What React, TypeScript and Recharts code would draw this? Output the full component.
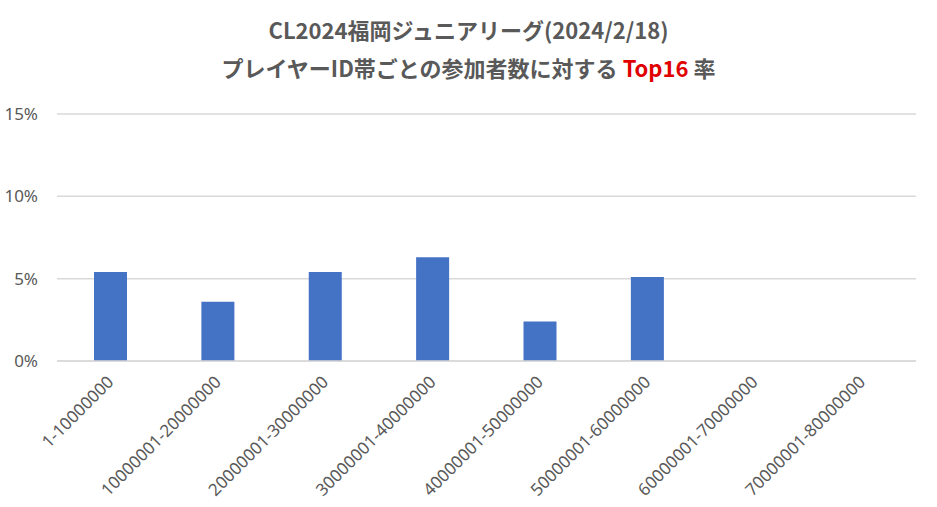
import React from 'react';
import { BarChart, Bar, XAxis, YAxis, CartesianGrid } from 'recharts';

const idRanges = [
  '1-10000000',
  '10000001-20000000',
  '20000001-30000000',
  '30000001-40000000',
  '40000001-50000000',
  '50000001-60000000',
  '60000001-70000000',
  '70000001-80000000',
];

const top16Rate = [0.054, 0.036, 0.054, 0.063, 0.024, 0.051, 0, 0];

const yTicks = [0, 0.05, 0.1, 0.15];

const data = idRanges.map((range, i) => ({ range, rate: top16Rate[i] }));

const GREY = '#595959';
const FONT = '"Noto Sans", "Noto Sans CJK JP", sans-serif';

const AngledTick = (props: any) => {
  const { x, y, payload } = props;
  return (
    <text
      x={x + 4}
      y={y + 14}
      transform={`rotate(-45, ${x + 4}, ${y + 14})`}
      textAnchor="end"
      fill={GREY}
      fontSize={17}
      fontFamily={FONT}
    >
      {payload.value}
    </text>
  );
};

export default function App() {
  return (
    <div style={{ position: 'absolute', left: 0, top: 0, width: 937, height: 507, background: '#fff' }}>
      <style>{'body{margin:0}'}</style>
      <div
        style={{
          position: 'absolute',
          left: 0,
          top: 10,
          width: 937,
          textAlign: 'center',
          color: GREY,
          fontFamily: '"Noto Sans CJK JP", sans-serif',
          fontWeight: 700,
          fontSize: 22,
          lineHeight: '38px',
        }}
      >
        <div>CL2024福岡ジュニアリーグ(2024/2/18)</div>
        <div>
          プレイヤーID帯ごとの参加者数に対する <span style={{ color: '#e00000' }}>Top16</span> 率
        </div>
      </div>
      <BarChart
        width={937}
        height={507}
        data={data}
        margin={{ top: 114, right: 21, bottom: 6, left: 0 }}
        barSize={33}
      >
        <CartesianGrid vertical={false} stroke="#d9d9d9" strokeWidth={1.5} />
        <XAxis
          dataKey="range"
          interval={0}
          height={140}
          tickLine={false}
          axisLine={{ stroke: '#d9d9d9', strokeWidth: 1.5 }}
          tick={<AngledTick />}
        />
        <YAxis
          width={57}
          domain={[0, 0.15]}
          ticks={yTicks}
          tickFormatter={(v: number) => `${Math.round(v * 100)}%`}
          axisLine={false}
          tickLine={false}
          tickMargin={13}
          tick={{ fill: GREY, fontSize: 17, fontFamily: FONT }}
        />
        <Bar dataKey="rate" fill="#4472c4" isAnimationActive={false} />
      </BarChart>
    </div>
  );
}
